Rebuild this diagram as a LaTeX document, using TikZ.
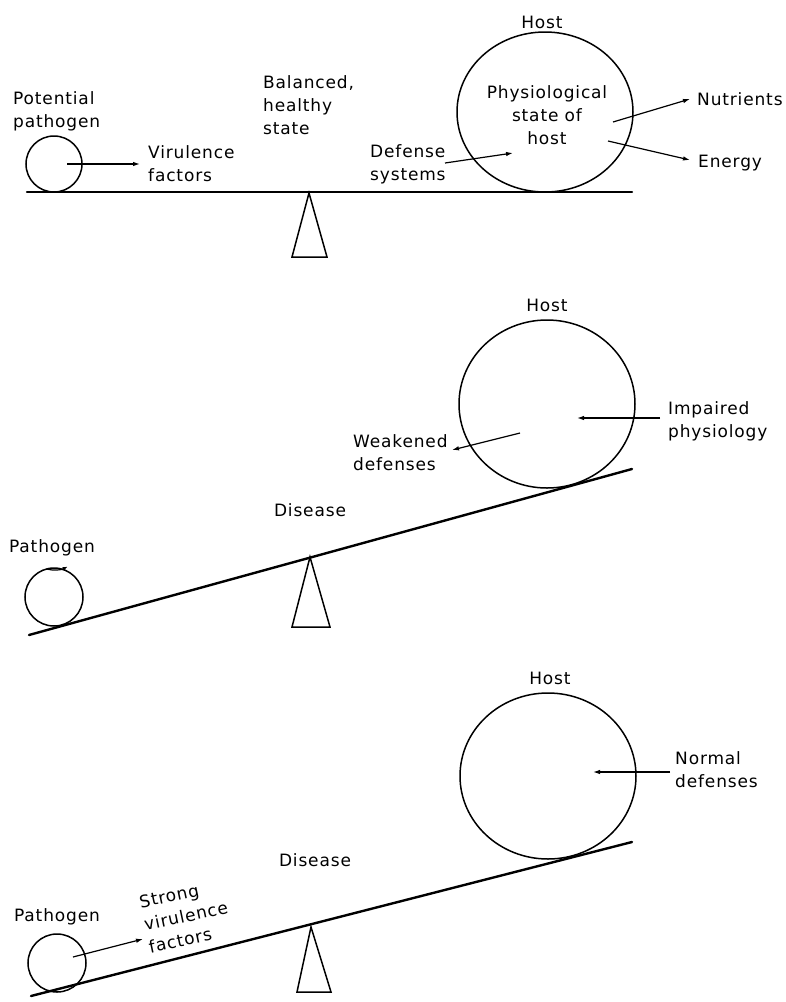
\documentclass[tikz,border=0pt]{standalone}
\usepackage{fontspec}
\setmainfont[LetterSpace=5]{DejaVu Sans}
\usetikzlibrary{arrows.meta,shapes.geometric}
\begin{document}
\begin{tikzpicture}[x=1pt,y=-1pt,
  lbl/.style={inner sep=0pt,font=\fontsize{17}{23}\selectfont},
  ptr/.style={line width=1.2pt,-{Latex[length=7pt,width=4.5pt]}},
  body/.style={draw,line width=1.5pt,ellipse,inner sep=0pt,outer sep=0pt},
  beam/.style={line width=2.4pt,line cap=round},
  fulc/.style={line width=1.5pt,line join=miter}
]
\useasboundingbox (0,0) rectangle (785,1002);
\fill[white] (0,0) rectangle (785,1002);

% ---------------- Panel 1 ----------------
\coordinate (b1l) at (27,192);
\coordinate (b1r) at (632,192);
\draw[beam] (b1l) -- (b1r);
\node[body,minimum width=56pt,minimum height=56pt] (pat1) at (54,164) {};
\node[body,minimum width=176pt,minimum height=160pt] (host1) at (545,112) {};
\coordinate (f1a) at (309,193);
\coordinate (f1b) at (292,257);
\coordinate (f1c) at (327,257);
\draw[fulc] (f1a) -- (f1b) -- (f1c) -- cycle;

\node[lbl,anchor=west,align=left] (tpot) at (13,111) {Potential\\pathogen};
\node[lbl,anchor=west,align=left] (tvir) at (148,164) {Virulence\\factors};
\node[lbl,anchor=west,align=left] (tbal) at (263,105) {Balanced,\\healthy\\state};
\node[lbl] (thost1) at (542,22) {Host};
\node[lbl,align=center] (tphys) at (547,115) {Physiological\\state of\\host};
\node[lbl,anchor=west] (tnut) at (697,99) {Nutrients};
\node[lbl,anchor=west] (tene) at (698,163) {Energy};
\node[lbl,anchor=west,align=left] (tdef) at (370,164) {Defense\\systems};

\coordinate (v1s) at (67,164);
\coordinate (v1e) at (140,164);
\draw[ptr] (v1s) -- (v1e);
\coordinate (n1s) at (613,122);
\coordinate (n1e) at (690,99);
\draw[ptr] (n1s) -- (n1e);
\coordinate (e1s) at (608,141);
\coordinate (e1e) at (690,160);
\draw[ptr] (e1s) -- (e1e);
\coordinate (d1s) at (445,163);
\coordinate (d1e) at (513,153);
\draw[ptr] (d1s) -- (d1e);

% ---------------- Panel 2 ----------------
\coordinate (b2l) at (29,635);
\coordinate (b2r) at (632,469);
\draw[beam] (b2l) -- (b2r);
\node[body,minimum width=58pt,minimum height=58pt] (pat2) at (54,597) {};
\draw[line width=1.2pt,-{Latex[length=5pt,width=4pt]}] (pat2.105) arc[start angle=-105,end angle=-62,radius=29pt];
\node[body,minimum width=176pt,minimum height=168pt] (host2) at (547,404) {};
\coordinate (f2a) at (310,557);
\coordinate (f2b) at (292,627);
\coordinate (f2c) at (330,627);
\draw[fulc] (f2a) -- (f2b) -- (f2c) -- cycle;

\node[lbl] (thost2) at (547,305) {Host};
\node[lbl,anchor=west,align=left] (timp) at (668,421) {Impaired\\physiology};
\node[lbl,anchor=west,align=left] (tweak) at (353,453) {Weakened\\defenses};
\node[lbl] (tdis2) at (310,510) {Disease};
\node[lbl] (tpat2) at (52,548) {Pathogen};

\coordinate (i2s) at (660,418);
\coordinate (i2e) at (577,418);
\draw[ptr] (i2s) -- (i2e);
\coordinate (w2s) at (520,433);
\coordinate (w2e) at (452,450);
\draw[ptr] (w2s) -- (w2e);

% ---------------- Panel 3 ----------------
\coordinate (b3l) at (31,996);
\coordinate (b3r) at (632,842);
\draw[beam] (b3l) -- (b3r);
\node[body,minimum width=58pt,minimum height=58pt] (pat3) at (57,963) {};
\node[body,minimum width=176pt,minimum height=166pt] (host3) at (548,776) {};
\coordinate (f3a) at (311,927);
\coordinate (f3b) at (297,992);
\coordinate (f3c) at (331,992);
\draw[fulc] (f3a) -- (f3b) -- (f3c) -- cycle;

\node[lbl] (thost3) at (550,678) {Host};
\node[lbl,anchor=west,align=left] (tnorm) at (675,770) {Normal\\defenses};
\node[lbl] (tdis3) at (315,860) {Disease};
\node[lbl] (tpat3) at (57,917) {Pathogen};
\node[lbl,align=left,rotate=12] (tstr) at (186,916) {Strong\\virulence\\factors};

\coordinate (n3s) at (670,772);
\coordinate (n3e) at (593,772);
\draw[ptr] (n3s) -- (n3e);
\coordinate (s3s) at (73,957);
\coordinate (s3e) at (143,939);
\draw[ptr] (s3s) -- (s3e);
\end{tikzpicture}
\end{document}
